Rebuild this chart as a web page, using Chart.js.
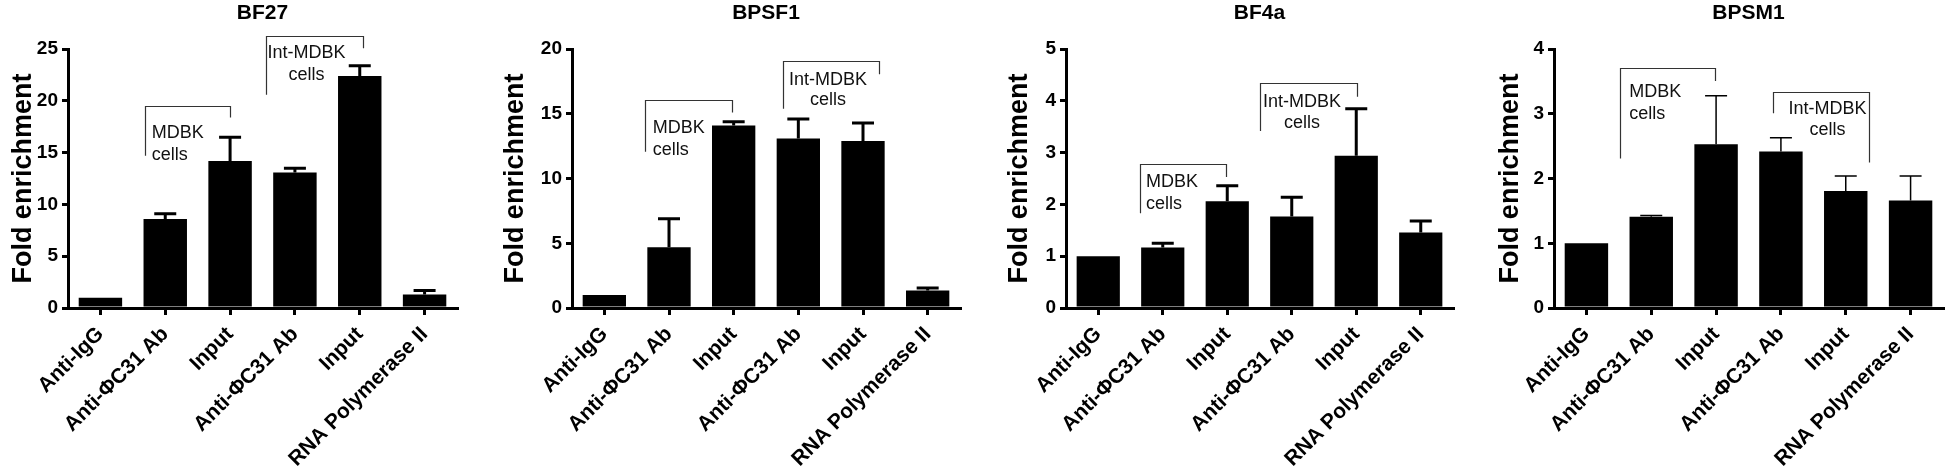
<!DOCTYPE html>
<html>
<head>
<meta charset="utf-8">
<script src="https://cdn.jsdelivr.net/npm/chart.js@4.4.1/dist/chart.umd.min.js"></script>
<style>
  body { margin: 0; background: #fff; width: 1946px; height: 471px; position: relative; overflow: hidden; }
  canvas { position: absolute; top: 0; }
</style>
</head>
<body>
<canvas id="c0" width="486" height="471" style="left:0px"></canvas>
<canvas id="c1" width="486" height="471" style="left:490px"></canvas>
<canvas id="c2" width="486" height="471" style="left:980px"></canvas>
<canvas id="c3" width="486" height="471" style="left:1460px"></canvas>
<script>
// categories shared by all four panels
const categories = ["Anti-IgG", "Anti-\u03A6C31 Ab", "Input", "Anti-\u03A6C31 Ab", "Input", "RNA Polymerase II"];
const panelTitles = ["BF27", "BPSF1", "BF4a", "BPSM1"];

// mean fold enrichment and upper error (SD) per panel
const bf27Values  = [1.0, 8.6, 14.2, 13.1, 22.4, 1.3];
const bf27Errors  = [0, 0.5, 2.3, 0.4, 1.0, 0.4];
const bpsf1Values = [1.0, 4.7, 14.1, 13.1, 12.9, 1.35];
const bpsf1Errors = [0, 2.2, 0.3, 1.5, 1.4, 0.2];
const bf4aValues  = [1.0, 1.17, 2.06, 1.77, 2.94, 1.46];
const bf4aErrors  = [0, 0.08, 0.30, 0.37, 0.91, 0.22];
const bpsm1Values = [1.0, 1.41, 2.53, 2.42, 1.81, 1.66];
const bpsm1Errors = [0, 0.02, 0.75, 0.21, 0.23, 0.38];

// y axis ranges
const yMax  = [25, 20, 5, 4];
const yStep = [5, 5, 1, 1];

// group brackets, in category index / data units
// [x0, x1, top, leftEnd, rightEnd]
const mdbkBrackets = [
  [0.68, 2.0, 19.5, 14.7, 18.4],
  [0.63, 1.97, 16.06, 12.07, 15.1],
  [0.64, 1.98, 2.79, 1.83, 2.53],
  [0.52, 1.98, 3.71, 2.31, 3.51]
];
const intBrackets = [
  [2.555, 4.05, 26.3, 20.6, 25.1],
  [2.76, 4.25, 19.07, 15.4, 18.07],
  [2.51, 4.01, 4.34, 3.42, 4.08],
  [2.88, 4.36, 3.34, 3.01, 2.25]
];
// label anchors: [x, yLine1, yLine2]
const mdbkText = [[0.79, 16.9, 14.8], [0.75, 13.9, 12.2], [0.74, 2.44, 2.01], [0.66, 3.34, 3.0]];
const intText  = [[3.18, 24.6, 22.5], [3.46, 17.6, 16.06], [3.16, 3.98, 3.57], [3.72, 3.08, 2.75]];

const allValues = [bf27Values, bpsf1Values, bf4aValues, bpsm1Values];
const allErrors = [bf27Errors, bpsf1Errors, bf4aErrors, bpsm1Errors];

// layout per panel (pixels)
const yAxisWidth = [68, 82, 86, 94];
const rightPad   = [29, 16, 13, 3];
const yTitlePad  = [7, 9, 23, 34];
const errWidth   = [3, 3, 3, 1.5];

const FONT = '"Liberation Sans", Arial, Helvetica, sans-serif';
Chart.defaults.font.family = FONT;
Chart.defaults.color = '#000';

const extras = {
  id: 'extras',
  afterDatasetsDraw(chart, args, opts) {
    const ctx = chart.ctx;
    const x = chart.scales.x, y = chart.scales.y;
    const meta = chart.getDatasetMeta(0);
    ctx.save();
    // error bars (upper only)
    ctx.strokeStyle = '#000';
    ctx.lineWidth = opts.errWidth;
    opts.values.forEach((v, i) => {
      const e = opts.errors[i];
      if (!e) return;
      const bx = meta.data[i].x;
      const y0 = y.getPixelForValue(v), y1 = y.getPixelForValue(v + e);
      ctx.beginPath();
      ctx.moveTo(bx, y0);
      ctx.lineTo(bx, y1);
      ctx.moveTo(bx - 11, y1);
      ctx.lineTo(bx + 11, y1);
      ctx.stroke();
    });
    // brackets
    ctx.strokeStyle = '#333';
    ctx.lineWidth = 1.2;
    [opts.mdbk, opts.intb].forEach(b => {
      const x0 = Math.round(x.getPixelForValue(b[0])) + 0.5;
      const x1 = Math.round(x.getPixelForValue(b[1])) + 0.5;
      const yt = Math.round(y.getPixelForValue(b[2])) + 0.5;
      ctx.beginPath();
      ctx.moveTo(x0, y.getPixelForValue(b[3]));
      ctx.lineTo(x0, yt);
      ctx.lineTo(x1, yt);
      ctx.lineTo(x1, y.getPixelForValue(b[4]));
      ctx.stroke();
    });
    ctx.fillStyle = '#111';
    ctx.font = '18px ' + FONT;
    ctx.textBaseline = 'middle';
    ctx.textAlign = 'left';
    const mt = opts.mdbkText;
    ctx.fillText('MDBK', x.getPixelForValue(mt[0]), y.getPixelForValue(mt[1]));
    ctx.fillText('cells', x.getPixelForValue(mt[0]), y.getPixelForValue(mt[2]));
    ctx.textAlign = 'center';
    const it = opts.intText;
    ctx.fillText('Int-MDBK', x.getPixelForValue(it[0]), y.getPixelForValue(it[1]));
    ctx.fillText('cells', x.getPixelForValue(it[0]), y.getPixelForValue(it[2]));
    ctx.restore();
  }
};

for (let p = 0; p < 4; p++) {
  new Chart(document.getElementById('c' + p), {
    type: 'bar',
    data: {
      labels: categories,
      datasets: [{
        data: allValues[p],
        backgroundColor: '#000',
        borderWidth: 0,
        barPercentage: 0.67,
        categoryPercentage: 1
      }]
    },
    options: {
      responsive: false,
      animation: false,
      layout: { padding: { left: 0, right: rightPad[p], top: 0, bottom: 0 } },
      plugins: {
        legend: { display: false },
        tooltip: { enabled: false },
        title: {
          display: true,
          text: panelTitles[p],
          fullSize: false,
          color: '#000',
          font: { size: 21, weight: 'bold' },
          padding: { top: 1, bottom: 23 }
        },
        extras: {
          values: allValues[p],
          errors: allErrors[p],
          errWidth: errWidth[p],
          mdbk: mdbkBrackets[p],
          intb: intBrackets[p],
          mdbkText: mdbkText[p],
          intText: intText[p]
        }
      },
      scales: {
        x: {
          grid: { display: true, drawOnChartArea: false, offset: false, color: '#000', lineWidth: 3, tickLength: 7 },
          border: { display: true, color: '#000', width: 3 },
          ticks: { color: '#000', font: { size: 21, weight: 'bold' }, minRotation: 45, maxRotation: 45, autoSkip: false, padding: 7 },
          afterFit(s) { s.height = 163; }
        },
        y: {
          min: 0,
          max: yMax[p],
          ticks: { stepSize: yStep[p], color: '#000', font: { size: 19, weight: 'bold' }, padding: 4 },
          grid: { drawOnChartArea: false, color: '#000', lineWidth: 3, tickLength: 6 },
          border: { display: true, color: '#000', width: 3 },
          title: {
            display: true,
            text: 'Fold enrichment',
            color: '#000',
            font: { size: 27, weight: 'bold' },
            padding: { top: yTitlePad[p], bottom: 0 }
          },
          afterFit(s) { s.width = yAxisWidth[p]; }
        }
      }
    },
    plugins: [extras]
  });
}
</script>
</body>
</html>
